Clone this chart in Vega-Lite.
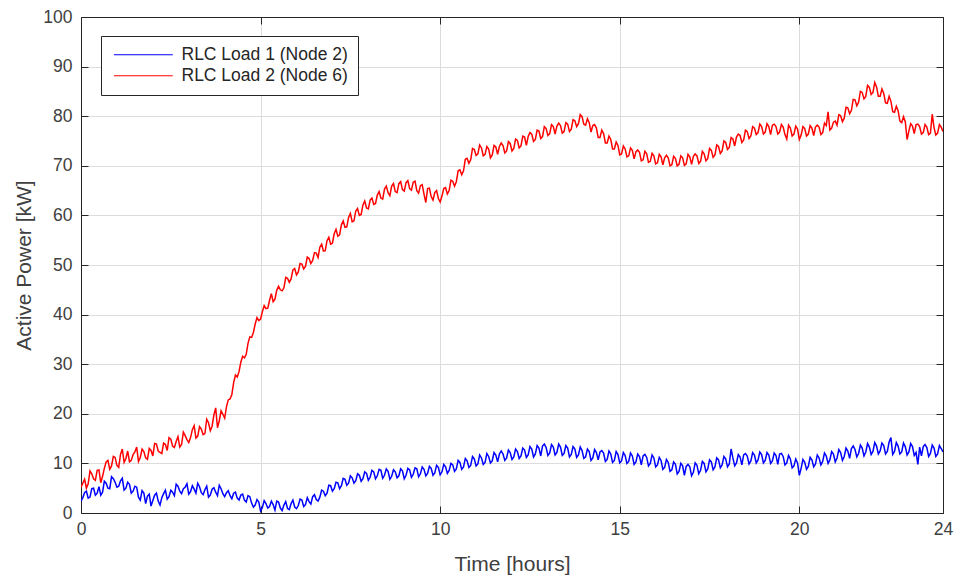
{
  "$schema": "https://vega.github.io/schema/vega-lite/v6.json",
  "autosize": {"type": "none"},
  "padding": {"left": 81, "top": 17, "right": 14, "bottom": 66},
  "width": 862,
  "height": 496,
  "background": "white",
  "config": {
    "font": "Liberation Sans",
    "view": {"stroke": null},
    "axis": {
      "labelFont": "Liberation Sans",
      "titleFont": "Liberation Sans",
      "labelFontSize": 17.5,
      "titleFontSize": 21,
      "titleFontWeight": "normal",
      "labelColor": "#404040",
      "titleColor": "#404040",
      "domainColor": "#262626",
      "tickColor": "#262626",
      "gridColor": "#dcdcdc",
      "gridWidth": 1
    }
  },
  "data": {"values": [
{"t":0,"b":2.4,"r":5.2},{"t":0.05,"b":3.1,"r":6.0},{"t":0.1,"b":4.1,"r":6.8},{"t":0.15,"b":4.4,"r":5.0},{"t":0.2,"b":3.0,"r":5.9},{"t":0.25,"b":3.2,"r":8.5},{"t":0.3,"b":4.9,"r":7.9},{"t":0.35,"b":5.0,"r":6.9},{"t":0.4,"b":3.6,"r":6.6},{"t":0.45,"b":4.0,"r":8.6},
{"t":0.5,"b":5.3,"r":8.7},{"t":0.55,"b":3.6,"r":6.1},{"t":0.6,"b":4.2,"r":7.4},{"t":0.65,"b":6.4,"r":9.0},{"t":0.7,"b":6.0,"r":10.3},{"t":0.75,"b":5.0,"r":10.6},{"t":0.8,"b":4.9,"r":8.8},{"t":0.85,"b":7.3,"r":9.5},{"t":0.9,"b":6.9,"r":11.4},{"t":0.95,"b":6.2,"r":11.2},
{"t":1.0,"b":5.2,"r":9.6},{"t":1.05,"b":5.4,"r":9.2},{"t":1.1,"b":6.5,"r":11.8},{"t":1.15,"b":7.0,"r":12.9},{"t":1.2,"b":4.6,"r":10.2},{"t":1.25,"b":5.0,"r":11.0},{"t":1.3,"b":6.2,"r":12.5},{"t":1.35,"b":5.8,"r":10.3},{"t":1.4,"b":4.0,"r":10.6},{"t":1.45,"b":4.4,"r":11.8},
{"t":1.5,"b":5.4,"r":12.3},{"t":1.55,"b":5.2,"r":13.3},{"t":1.6,"b":3.2,"r":10.4},{"t":1.65,"b":2.6,"r":11.2},{"t":1.7,"b":4.5,"r":12.9},{"t":1.75,"b":4.0,"r":12.4},{"t":1.8,"b":1.9,"r":11.1},{"t":1.85,"b":3.4,"r":10.8},{"t":1.9,"b":3.8,"r":13.0},{"t":1.95,"b":1.4,"r":12.6},
{"t":2.0,"b":2.5,"r":11.5},{"t":2.05,"b":3.6,"r":14.0},{"t":2.1,"b":4.0,"r":13.9},{"t":2.15,"b":2.4,"r":12.5},{"t":2.2,"b":1.6,"r":12.2},{"t":2.25,"b":3.1,"r":12.0},{"t":2.3,"b":3.9,"r":14.1},{"t":2.35,"b":4.6,"r":13.8},{"t":2.4,"b":2.8,"r":12.6},{"t":2.45,"b":3.3,"r":15.2},
{"t":2.5,"b":4.6,"r":14.9},{"t":2.55,"b":4.2,"r":13.5},{"t":2.6,"b":3.5,"r":13.2},{"t":2.65,"b":5.8,"r":14.4},{"t":2.7,"b":5.4,"r":15.4},{"t":2.75,"b":4.4,"r":13.3},{"t":2.8,"b":3.9,"r":13.8},{"t":2.85,"b":4.9,"r":16.3},{"t":2.9,"b":5.2,"r":15.6},{"t":2.95,"b":5.9,"r":14.8},
{"t":3.0,"b":3.8,"r":14.2},{"t":3.05,"b":4.3,"r":15.2},{"t":3.1,"b":5.5,"r":16.8},{"t":3.15,"b":4.8,"r":17.6},{"t":3.2,"b":4.0,"r":15.1},{"t":3.25,"b":6.0,"r":15.5},{"t":3.3,"b":5.3,"r":17.4},{"t":3.35,"b":4.1,"r":16.9},{"t":3.4,"b":3.7,"r":15.8},{"t":3.45,"b":4.7,"r":16.0},
{"t":3.5,"b":5.4,"r":18.9},{"t":3.55,"b":3.2,"r":18.2},{"t":3.6,"b":3.6,"r":16.6},{"t":3.65,"b":4.8,"r":17.5},{"t":3.7,"b":5.1,"r":19.8},{"t":3.75,"b":4.2,"r":21.2},{"t":3.8,"b":3.5,"r":17.2},{"t":3.85,"b":5.6,"r":18.6},{"t":3.9,"b":4.9,"r":20.6},{"t":3.95,"b":3.9,"r":19.9},
{"t":4.0,"b":3.3,"r":19.1},{"t":4.05,"b":4.1,"r":21.4},{"t":4.1,"b":4.5,"r":22.8},{"t":4.15,"b":3.5,"r":23.0},{"t":4.2,"b":2.9,"r":23.9},{"t":4.25,"b":4.0,"r":26.3},{"t":4.3,"b":4.2,"r":27.8},{"t":4.35,"b":3.0,"r":27.4},{"t":4.4,"b":2.6,"r":28.5},{"t":4.45,"b":3.6,"r":30.4},
{"t":4.5,"b":3.8,"r":31.6},{"t":4.55,"b":2.6,"r":31.3},{"t":4.6,"b":2.2,"r":32.0},{"t":4.65,"b":3.5,"r":34.2},{"t":4.7,"b":3.3,"r":35.5},{"t":4.75,"b":2.0,"r":35.4},{"t":4.8,"b":1.2,"r":36.4},{"t":4.85,"b":1.6,"r":38.1},{"t":4.9,"b":2.7,"r":39.4},{"t":4.95,"b":2.2,"r":38.8},
{"t":5.0,"b":0.4,"r":39.1},{"t":5.05,"b":1.1,"r":40.6},{"t":5.1,"b":2.5,"r":41.8},{"t":5.15,"b":1.9,"r":41.2},{"t":5.2,"b":1.0,"r":41.3},{"t":5.25,"b":1.3,"r":42.9},{"t":5.3,"b":2.4,"r":44.2},{"t":5.35,"b":1.7,"r":42.6},{"t":5.4,"b":0.6,"r":43.1},{"t":5.45,"b":2.4,"r":44.9},
{"t":5.5,"b":2.2,"r":45.7},{"t":5.55,"b":1.0,"r":45.0},{"t":5.6,"b":0.5,"r":44.8},{"t":5.65,"b":1.6,"r":45.4},{"t":5.7,"b":2.3,"r":47.5},{"t":5.75,"b":0.9,"r":47.3},{"t":5.8,"b":0.7,"r":46.5},{"t":5.85,"b":1.9,"r":47.2},{"t":5.9,"b":2.6,"r":49.0},{"t":5.95,"b":1.2,"r":49.3},
{"t":6.0,"b":0.9,"r":48.0},{"t":6.05,"b":1.5,"r":48.6},{"t":6.1,"b":2.8,"r":50.3},{"t":6.15,"b":2.6,"r":50.2},{"t":6.2,"b":1.3,"r":49.2},{"t":6.25,"b":1.7,"r":49.7},{"t":6.3,"b":3.1,"r":51.6},{"t":6.35,"b":2.3,"r":51.3},{"t":6.4,"b":1.8,"r":50.3},{"t":6.45,"b":3.3,"r":50.9},
{"t":6.5,"b":3.7,"r":52.5},{"t":6.55,"b":2.7,"r":52.4},{"t":6.6,"b":2.4,"r":51.5},{"t":6.65,"b":3.2,"r":53.6},{"t":6.7,"b":4.6,"r":54.2},{"t":6.75,"b":4.4,"r":52.8},{"t":6.8,"b":3.5,"r":52.9},{"t":6.85,"b":4.0,"r":54.9},{"t":6.9,"b":5.6,"r":55.6},{"t":6.95,"b":5.5,"r":54.2},
{"t":7.0,"b":4.4,"r":54.4},{"t":7.05,"b":4.9,"r":56.3},{"t":7.1,"b":6.2,"r":57.2},{"t":7.15,"b":6.1,"r":55.8},{"t":7.2,"b":4.9,"r":56.1},{"t":7.25,"b":5.5,"r":58.1},{"t":7.3,"b":7.0,"r":58.9},{"t":7.35,"b":6.8,"r":57.6},{"t":7.4,"b":5.6,"r":57.7},{"t":7.45,"b":6.0,"r":59.6},
{"t":7.5,"b":7.5,"r":60.4},{"t":7.55,"b":7.1,"r":58.7},{"t":7.6,"b":6.0,"r":58.9},{"t":7.65,"b":6.5,"r":60.9},{"t":7.7,"b":7.9,"r":61.4},{"t":7.75,"b":7.6,"r":60.0},{"t":7.8,"b":6.4,"r":60.2},{"t":7.85,"b":6.9,"r":62.1},{"t":7.9,"b":8.3,"r":62.9},{"t":7.95,"b":8.0,"r":61.5},
{"t":8.0,"b":6.6,"r":61.3},{"t":8.05,"b":7.2,"r":63.1},{"t":8.1,"b":8.6,"r":63.5},{"t":8.15,"b":8.3,"r":62.2},{"t":8.2,"b":6.9,"r":62.4},{"t":8.25,"b":7.5,"r":64.1},{"t":8.3,"b":8.8,"r":64.8},{"t":8.35,"b":8.6,"r":63.5},{"t":8.4,"b":7.0,"r":63.3},{"t":8.45,"b":7.6,"r":65.3},
{"t":8.5,"b":8.9,"r":65.9},{"t":8.55,"b":8.4,"r":64.6},{"t":8.6,"b":6.8,"r":64.0},{"t":8.65,"b":7.4,"r":65.9},{"t":8.7,"b":8.7,"r":66.4},{"t":8.75,"b":8.3,"r":64.8},{"t":8.8,"b":7.1,"r":64.6},{"t":8.85,"b":7.5,"r":66.4},{"t":8.9,"b":8.9,"r":66.8},{"t":8.95,"b":8.5,"r":65.2},
{"t":9.0,"b":6.9,"r":64.9},{"t":9.05,"b":7.6,"r":66.6},{"t":9.1,"b":9.0,"r":67.0},{"t":9.15,"b":8.7,"r":65.4},{"t":9.2,"b":7.2,"r":65.1},{"t":9.25,"b":7.8,"r":66.7},{"t":9.3,"b":9.1,"r":66.9},{"t":9.35,"b":8.9,"r":65.0},{"t":9.4,"b":7.3,"r":64.5},{"t":9.45,"b":7.9,"r":66.0},
{"t":9.5,"b":9.3,"r":66.2},{"t":9.55,"b":8.8,"r":64.3},{"t":9.6,"b":7.5,"r":62.6},{"t":9.65,"b":8.0,"r":65.4},{"t":9.7,"b":9.4,"r":65.5},{"t":9.75,"b":9.0,"r":63.8},{"t":9.8,"b":7.6,"r":63.1},{"t":9.85,"b":8.1,"r":64.6},{"t":9.9,"b":9.6,"r":65.0},{"t":9.95,"b":9.2,"r":63.4},
{"t":10.0,"b":7.7,"r":62.7},{"t":10.05,"b":8.3,"r":63.9},{"t":10.1,"b":9.8,"r":65.4},{"t":10.15,"b":9.3,"r":65.6},{"t":10.2,"b":8.0,"r":64.3},{"t":10.25,"b":8.6,"r":65.0},{"t":10.3,"b":10.0,"r":67.1},{"t":10.35,"b":9.7,"r":66.9},{"t":10.4,"b":8.4,"r":65.9},{"t":10.45,"b":8.9,"r":66.8},
{"t":10.5,"b":10.6,"r":69.0},{"t":10.55,"b":10.2,"r":69.2},{"t":10.6,"b":8.8,"r":68.2},{"t":10.65,"b":9.3,"r":69.0},{"t":10.7,"b":11.0,"r":71.3},{"t":10.75,"b":10.5,"r":71.5},{"t":10.8,"b":9.2,"r":70.5},{"t":10.85,"b":9.6,"r":71.2},{"t":10.9,"b":11.4,"r":73.5},{"t":10.95,"b":10.9,"r":73.3},
{"t":11.0,"b":9.5,"r":72.1},{"t":11.05,"b":9.9,"r":72.4},{"t":11.1,"b":11.7,"r":74.2},{"t":11.15,"b":11.1,"r":73.6},{"t":11.2,"b":9.8,"r":72.0},{"t":11.25,"b":10.2,"r":72.3},{"t":11.3,"b":12.0,"r":73.9},{"t":11.35,"b":11.4,"r":73.4},{"t":11.4,"b":10.1,"r":71.6},{"t":11.45,"b":10.5,"r":72.2},
{"t":11.5,"b":12.2,"r":74.1},{"t":11.55,"b":11.7,"r":73.8},{"t":11.6,"b":10.3,"r":72.3},{"t":11.65,"b":11.9,"r":73.9},{"t":11.7,"b":12.5,"r":74.6},{"t":11.75,"b":11.9,"r":74.1},{"t":11.8,"b":10.6,"r":72.6},{"t":11.85,"b":11.1,"r":73.0},{"t":11.9,"b":12.7,"r":74.9},{"t":11.95,"b":12.2,"r":74.5},
{"t":12.0,"b":10.8,"r":73.0},{"t":12.05,"b":11.3,"r":73.5},{"t":12.1,"b":12.9,"r":75.4},{"t":12.15,"b":12.4,"r":75.1},{"t":12.2,"b":11.0,"r":73.6},{"t":12.25,"b":11.5,"r":74.0},{"t":12.3,"b":13.1,"r":76.0},{"t":12.35,"b":12.7,"r":75.8},{"t":12.4,"b":11.2,"r":74.1},{"t":12.45,"b":11.7,"r":75.9},
{"t":12.5,"b":13.4,"r":76.7},{"t":12.55,"b":12.9,"r":76.4},{"t":12.6,"b":11.3,"r":74.9},{"t":12.65,"b":11.9,"r":75.3},{"t":12.7,"b":13.6,"r":77.2},{"t":12.75,"b":13.1,"r":77.0},{"t":12.8,"b":11.5,"r":75.5},{"t":12.85,"b":13.5,"r":75.9},{"t":12.9,"b":13.9,"r":77.9},{"t":12.95,"b":13.2,"r":77.5},
{"t":13.0,"b":11.6,"r":76.1},{"t":13.05,"b":12.1,"r":76.5},{"t":13.1,"b":13.8,"r":78.3},{"t":13.15,"b":13.3,"r":77.9},{"t":13.2,"b":11.7,"r":76.4},{"t":13.25,"b":12.2,"r":78.0},{"t":13.3,"b":13.9,"r":78.6},{"t":13.35,"b":13.3,"r":78.1},{"t":13.4,"b":11.6,"r":76.6},{"t":13.45,"b":12.0,"r":76.9},
{"t":13.5,"b":13.6,"r":78.7},{"t":13.55,"b":13.1,"r":78.4},{"t":13.6,"b":11.3,"r":76.9},{"t":13.65,"b":11.8,"r":77.4},{"t":13.7,"b":13.4,"r":79.3},{"t":13.75,"b":12.9,"r":79.1},{"t":13.8,"b":11.2,"r":77.9},{"t":13.85,"b":11.7,"r":78.5},{"t":13.9,"b":13.3,"r":80.3},{"t":13.95,"b":12.6,"r":79.9},
{"t":14.0,"b":11.0,"r":78.4},{"t":14.05,"b":11.3,"r":78.2},{"t":14.1,"b":12.9,"r":79.5},{"t":14.15,"b":12.4,"r":78.7},{"t":14.2,"b":10.6,"r":76.8},{"t":14.25,"b":11.1,"r":78.1},{"t":14.3,"b":12.8,"r":78.3},{"t":14.35,"b":12.2,"r":77.6},{"t":14.4,"b":10.7,"r":75.7},{"t":14.45,"b":12.3,"r":75.7},
{"t":14.5,"b":12.6,"r":77.2},{"t":14.55,"b":12.1,"r":76.5},{"t":14.6,"b":10.4,"r":74.6},{"t":14.65,"b":10.8,"r":74.6},{"t":14.7,"b":12.5,"r":76.0},{"t":14.75,"b":11.9,"r":75.3},{"t":14.8,"b":10.2,"r":73.4},{"t":14.85,"b":10.6,"r":73.4},{"t":14.9,"b":12.4,"r":74.8},{"t":14.95,"b":11.8,"r":74.1},
{"t":15.0,"b":10.1,"r":72.2},{"t":15.05,"b":10.5,"r":72.4},{"t":15.1,"b":12.2,"r":74.0},{"t":15.15,"b":11.6,"r":73.4},{"t":15.2,"b":10.0,"r":71.8},{"t":15.25,"b":10.4,"r":72.0},{"t":15.3,"b":12.1,"r":73.6},{"t":15.35,"b":11.5,"r":73.1},{"t":15.4,"b":9.8,"r":71.4},{"t":15.45,"b":10.3,"r":72.8},
{"t":15.5,"b":11.9,"r":73.2},{"t":15.55,"b":11.4,"r":72.7},{"t":15.6,"b":9.7,"r":71.0},{"t":15.65,"b":11.5,"r":71.2},{"t":15.7,"b":11.8,"r":72.9},{"t":15.75,"b":11.2,"r":72.4},{"t":15.8,"b":9.5,"r":70.7},{"t":15.85,"b":10.0,"r":70.9},{"t":15.9,"b":11.7,"r":72.5},{"t":15.95,"b":11.1,"r":72.0},
{"t":16.0,"b":9.3,"r":70.4},{"t":16.05,"b":9.7,"r":70.6},{"t":16.1,"b":11.2,"r":72.3},{"t":16.15,"b":10.6,"r":71.8},{"t":16.2,"b":8.8,"r":70.2},{"t":16.25,"b":9.2,"r":71.6},{"t":16.3,"b":10.8,"r":72.1},{"t":16.35,"b":10.2,"r":71.6},{"t":16.4,"b":8.4,"r":70.0},{"t":16.45,"b":8.7,"r":70.2},
{"t":16.5,"b":10.3,"r":71.9},{"t":16.55,"b":9.8,"r":71.5},{"t":16.6,"b":7.9,"r":70.0},{"t":16.65,"b":8.4,"r":70.3},{"t":16.7,"b":10.0,"r":72.0},{"t":16.75,"b":9.5,"r":71.6},{"t":16.8,"b":7.6,"r":70.1},{"t":16.85,"b":9.4,"r":70.4},{"t":16.9,"b":9.8,"r":72.3},{"t":16.95,"b":9.3,"r":71.8},
{"t":17.0,"b":7.5,"r":70.3},{"t":17.05,"b":8.2,"r":71.9},{"t":17.1,"b":10.1,"r":72.4},{"t":17.15,"b":9.6,"r":72.0},{"t":17.2,"b":7.9,"r":70.5},{"t":17.25,"b":8.6,"r":70.9},{"t":17.3,"b":10.4,"r":72.9},{"t":17.35,"b":10.0,"r":72.4},{"t":17.4,"b":8.3,"r":71.0},{"t":17.45,"b":8.9,"r":71.5},
{"t":17.5,"b":10.7,"r":73.5},{"t":17.55,"b":10.3,"r":73.1},{"t":17.6,"b":8.7,"r":71.7},{"t":17.65,"b":9.3,"r":72.2},{"t":17.7,"b":11.1,"r":74.2},{"t":17.75,"b":10.7,"r":73.9},{"t":17.8,"b":9.1,"r":72.5},{"t":17.85,"b":9.7,"r":73.0},{"t":17.9,"b":11.4,"r":75.0},{"t":17.95,"b":10.9,"r":74.7},
{"t":18.0,"b":9.3,"r":73.3},{"t":18.05,"b":9.9,"r":73.7},{"t":18.1,"b":12.9,"r":75.7},{"t":18.15,"b":11.1,"r":75.4},{"t":18.2,"b":9.5,"r":74.0},{"t":18.25,"b":10.1,"r":75.8},{"t":18.3,"b":11.8,"r":76.4},{"t":18.35,"b":11.3,"r":76.1},{"t":18.4,"b":9.7,"r":74.7},{"t":18.45,"b":11.7,"r":75.2},
{"t":18.5,"b":12.0,"r":77.2},{"t":18.55,"b":11.5,"r":76.9},{"t":18.6,"b":9.9,"r":75.5},{"t":18.65,"b":10.5,"r":76.0},{"t":18.7,"b":12.2,"r":77.9},{"t":18.75,"b":11.7,"r":77.6},{"t":18.8,"b":10.1,"r":76.3},{"t":18.85,"b":10.7,"r":76.7},{"t":18.9,"b":12.3,"r":78.4},{"t":18.95,"b":11.8,"r":77.9},
{"t":19.0,"b":10.1,"r":76.4},{"t":19.05,"b":10.6,"r":76.8},{"t":19.1,"b":12.2,"r":78.5},{"t":19.15,"b":11.7,"r":77.9},{"t":19.2,"b":10.0,"r":76.3},{"t":19.25,"b":10.5,"r":78.2},{"t":19.3,"b":12.1,"r":78.4},{"t":19.35,"b":11.6,"r":77.9},{"t":19.4,"b":9.8,"r":76.4},{"t":19.45,"b":11.9,"r":76.8},
{"t":19.5,"b":12.0,"r":78.3},{"t":19.55,"b":11.4,"r":77.8},{"t":19.6,"b":9.7,"r":76.3},{"t":19.65,"b":10.1,"r":75.4},{"t":19.7,"b":11.6,"r":78.2},{"t":19.75,"b":10.9,"r":77.6},{"t":19.8,"b":9.1,"r":76.0},{"t":19.85,"b":9.5,"r":76.4},{"t":19.9,"b":10.9,"r":78.0},{"t":19.95,"b":10.1,"r":77.4},
{"t":20.0,"b":7.6,"r":75.3},{"t":20.05,"b":9.0,"r":76.2},{"t":20.1,"b":10.8,"r":77.9},{"t":20.15,"b":10.2,"r":77.5},{"t":20.2,"b":8.8,"r":76.0},{"t":20.25,"b":9.4,"r":76.4},{"t":20.3,"b":11.2,"r":78.1},{"t":20.35,"b":10.7,"r":77.6},{"t":20.4,"b":9.3,"r":76.1},{"t":20.45,"b":9.9,"r":77.8},
{"t":20.5,"b":11.7,"r":78.2},{"t":20.55,"b":11.1,"r":77.8},{"t":20.6,"b":9.7,"r":76.3},{"t":20.65,"b":10.4,"r":76.7},{"t":20.7,"b":12.1,"r":78.6},{"t":20.75,"b":11.5,"r":78.1},{"t":20.8,"b":10.0,"r":80.9},{"t":20.85,"b":10.7,"r":77.2},{"t":20.9,"b":12.4,"r":77.6},{"t":20.95,"b":11.9,"r":78.8},
{"t":21.0,"b":10.3,"r":79.0},{"t":21.05,"b":11.1,"r":78.2},{"t":21.1,"b":12.8,"r":80.3},{"t":21.15,"b":12.2,"r":80.1},{"t":21.2,"b":10.6,"r":78.9},{"t":21.25,"b":11.4,"r":79.6},{"t":21.3,"b":13.1,"r":81.8},{"t":21.35,"b":12.5,"r":81.7},{"t":21.4,"b":11.0,"r":80.5},{"t":21.45,"b":13.0,"r":81.2},
{"t":21.5,"b":13.5,"r":83.4},{"t":21.55,"b":12.8,"r":83.3},{"t":21.6,"b":11.3,"r":82.1},{"t":21.65,"b":12.0,"r":82.8},{"t":21.7,"b":13.7,"r":85.0},{"t":21.75,"b":13.1,"r":84.8},{"t":21.8,"b":11.5,"r":83.5},{"t":21.85,"b":12.3,"r":84.0},{"t":21.9,"b":14.0,"r":86.2},{"t":21.95,"b":13.3,"r":85.8},
{"t":22.0,"b":11.8,"r":84.4},{"t":22.05,"b":12.4,"r":84.8},{"t":22.1,"b":14.2,"r":86.8},{"t":22.15,"b":13.5,"r":85.9},{"t":22.2,"b":11.9,"r":84.0},{"t":22.25,"b":12.5,"r":84.0},{"t":22.3,"b":14.1,"r":85.5},{"t":22.35,"b":13.6,"r":84.6},{"t":22.4,"b":11.9,"r":82.7},{"t":22.45,"b":12.4,"r":82.6},
{"t":22.5,"b":14.3,"r":84.0},{"t":22.55,"b":15.2,"r":83.0},{"t":22.6,"b":11.8,"r":80.9},{"t":22.65,"b":12.4,"r":80.8},{"t":22.7,"b":14.2,"r":82.0},{"t":22.75,"b":13.5,"r":81.1},{"t":22.8,"b":11.9,"r":79.0},{"t":22.85,"b":12.3,"r":78.7},{"t":22.9,"b":14.1,"r":79.9},{"t":22.95,"b":13.4,"r":78.9},
{"t":23.0,"b":11.7,"r":75.3},{"t":23.05,"b":12.3,"r":77.0},{"t":23.1,"b":14.0,"r":78.5},{"t":23.15,"b":13.4,"r":78.0},{"t":23.2,"b":11.6,"r":76.5},{"t":23.25,"b":12.2,"r":78.3},{"t":23.3,"b":9.8,"r":78.4},{"t":23.35,"b":13.3,"r":77.9},{"t":23.4,"b":11.5,"r":76.4},{"t":23.45,"b":13.4,"r":76.7},
{"t":23.5,"b":13.8,"r":78.3},{"t":23.55,"b":13.2,"r":77.8},{"t":23.6,"b":11.4,"r":76.3},{"t":23.65,"b":12.0,"r":76.6},{"t":23.7,"b":13.7,"r":80.4},{"t":23.75,"b":13.1,"r":77.7},{"t":23.8,"b":11.4,"r":76.2},{"t":23.85,"b":11.9,"r":76.6},{"t":23.9,"b":13.6,"r":78.3},{"t":23.95,"b":13.0,"r":77.8},
{"t":24.0,"b":12.3,"r":76.9}
  ]},
  "transform": [{"fold": ["b", "r"], "as": ["series", "v"]}],
  "layer": [
    {
      "mark": {"type": "line", "strokeWidth": 1.5, "clip": true},
      "encoding": {
        "x": {
          "field": "t", "type": "quantitative",
          "scale": {"domain": [0, 24], "nice": false, "zero": false},
          "axis": {
            "title": "Time [hours]", "values": [0, 5, 10, 15, 20, 24],
            "tickSize": -7, "labelPadding": 14, "titlePadding": 16,
            "grid": true, "labelFlush": false
          }
        },
        "y": {
          "field": "v", "type": "quantitative",
          "scale": {"domain": [0, 100], "nice": false},
          "axis": {
            "title": "Active Power [kW]", "values": [0,10,20,30,40,50,60,70,80,90,100],
            "tickSize": -7, "labelPadding": 16, "titlePadding": 8,
            "grid": true
          }
        },
        "color": {
          "field": "series", "type": "nominal",
          "scale": {"domain": ["b", "r"], "range": ["#0000ff", "#ff0000"]},
          "legend": {
            "title": null,
            "orient": "none", "legendX": 20, "legendY": 19,
            "labelExpr": "datum.value == 'b' ? 'RLC Load 1 (Node 2)' : 'RLC Load 2 (Node 6)'",
            "labelFont": "Liberation Sans", "labelFontSize": 17.5, "labelColor": "#262626",
            "labelLimit": 400,
            "symbolType": "M-1,0H9", "symbolSize": 139, "symbolStrokeWidth": 1.2,
            "strokeColor": "#262626", "fillColor": "white", "padding": 10,
            "rowPadding": 2, "labelOffset": 53
          }
        }
      }
    },
    {
      "mark": {"type": "line", "opacity": 0},
      "encoding": {
        "x": {
          "field": "t", "type": "quantitative",
          "axis": {"orient": "top", "title": null, "labels": false, "values": [0, 5, 10, 15, 20, 24], "tickSize": -7, "grid": false}
        },
        "y": {
          "field": "v", "type": "quantitative",
          "axis": {"orient": "right", "title": null, "labels": false, "values": [0,10,20,30,40,50,60,70,80,90,100], "tickSize": -7, "grid": false}
        },
        "detail": {"field": "series"}
      }
    }
  ],
  "resolve": {"axis": {"x": "independent", "y": "independent"}}
}
